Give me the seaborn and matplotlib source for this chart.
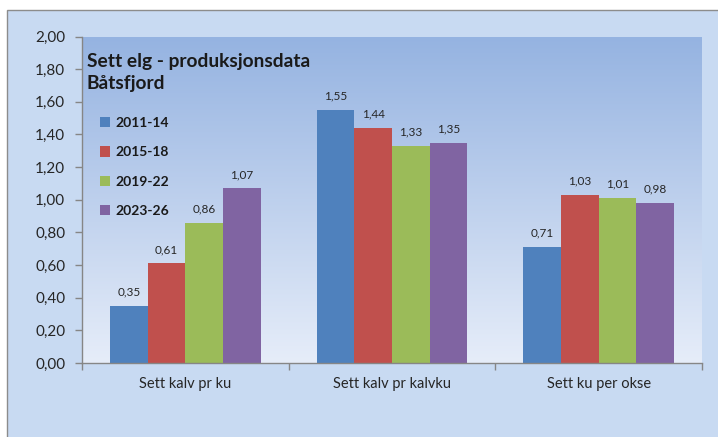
import matplotlib
matplotlib.use("Agg")
import numpy as np
import pandas as pd
import seaborn as sns
import matplotlib.pyplot as plt
from matplotlib.patches import Rectangle
from matplotlib.colors import LinearSegmentedColormap
from matplotlib.ticker import FuncFormatter, FixedLocator

categories = ["Sett kalv pr ku", "Sett kalv pr kalvku", "Sett ku per okse"]
periods = ["2011-14", "2015-18", "2019-22", "2023-26"]
v_2011_14 = [0.35, 1.55, 0.71]
v_2015_18 = [0.61, 1.44, 1.03]
v_2019_22 = [0.86, 1.33, 1.01]
v_2023_26 = [1.07, 1.35, 0.98]
colors = ["#4f81bd", "#c0504d", "#9bbb59", "#8064a2"]
title_lines = ["Sett elg - produksjonsdata", "Båtsfjord"]

series = [v_2011_14, v_2015_18, v_2019_22, v_2023_26]
rows = []
for p, vals in zip(periods, series):
    for c, v in zip(categories, vals):
        rows.append({"category": c, "period": p, "value": v})
df = pd.DataFrame(rows)

sns.set_theme(style="white")
plt.rcParams["font.family"] = ["Lato", "DejaVu Sans"]

W, H = 718, 437
fig = plt.figure(figsize=(W / 100, H / 100), dpi=100, facecolor="white")
bg = Rectangle((6.5 / W, -0.05), 1.2, 1.05 - 9.5 / H,
               transform=fig.transFigure, facecolor="#c8daf2",
               edgecolor="#8c8c8c", lw=1.0, zorder=-10)
fig.patches.append(bg)

ax = fig.add_axes([82 / W, 1 - 363 / H, 620 / W, (363 - 36.5) / H])
ax.set_zorder(1)
ax.set_facecolor("none")

sns.barplot(data=df, x="category", y="value", hue="period", palette=colors,
            width=0.73, gap=0, saturation=1, ax=ax, zorder=2, edgecolor="none")

grad = np.linspace(1, 0, 256).reshape(-1, 1)
cmap = LinearSegmentedColormap.from_list("g", ["#e6edf9", "#95b3e1"])
ax.imshow(grad, extent=[-0.5, 2.5, 0, 2.0], aspect="auto", cmap=cmap,
          origin="upper", zorder=0, interpolation="bilinear")
ax.set_xlim(-0.5, 2.5)
ax.set_ylim(0, 2.0)

for cont in ax.containers:
    labs = [f"{v:.2f}".replace(".", ",") for v in cont.datavalues]
    ax.bar_label(cont, labels=labs, padding=6, fontsize=8.5, color="#262626")

ax.set_yticks(np.arange(0, 2.001, 0.2))
ax.yaxis.set_major_formatter(FuncFormatter(lambda v, p: f"{v:.2f}".replace(".", ",")))
ax.tick_params(axis="y", length=5, width=1, color="#868686", direction="out",
               labelsize=11, pad=7, labelcolor="#262626", left=True)
ax.xaxis.set_minor_locator(FixedLocator([-0.5, 0.5, 1.5, 2.5]))
ax.tick_params(axis="x", which="major", length=0, labelsize=10.5, pad=10,
               labelcolor="#262626")
ax.tick_params(axis="x", which="minor", length=5, width=1, color="#868686",
               direction="out", bottom=True)
ax.set_xlabel("")
ax.set_ylabel("")
for s in ["top", "right"]:
    ax.spines[s].set_visible(False)
for s in ["left", "bottom"]:
    ax.spines[s].set_color("#868686")
    ax.spines[s].set_linewidth(1)
    ax.spines[s].set_zorder(3)

handles, labels = ax.get_legend_handles_labels()
ax.legend(handles, labels, loc="upper left", bbox_to_anchor=(100 / W, 1 - 117 / H),
          bbox_transform=fig.transFigure, frameon=False,
          prop={"weight": "bold", "size": 10}, handlelength=0.75, handleheight=0.75,
          handletextpad=0.35, labelspacing=1.25, borderpad=0, borderaxespad=0,
          labelcolor="#1a1a1a")

fig.text(87 / W, 1 - 61 / H, title_lines[0], fontsize=13.8, fontweight="bold",
         va="center", ha="left", color="#1a1a1a", zorder=5)
fig.text(87 / W, 1 - 83 / H, title_lines[1], fontsize=13.8, fontweight="bold",
         va="center", ha="left", color="#1a1a1a", zorder=5)

fig.savefig("out.png", dpi=100, facecolor="white")
